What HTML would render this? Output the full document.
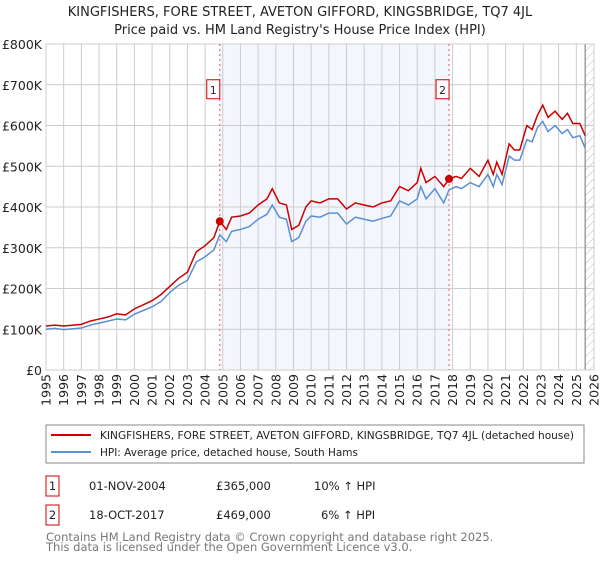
<!DOCTYPE html>
<html><head><meta charset="utf-8"><style>
body{margin:0;background:#fff;font-family:"Liberation Sans","DejaVu Sans",sans-serif;}
svg text{font-family:"DejaVu Sans","Liberation Sans",sans-serif;}
</style></head><body>
<svg id="c" width="600" height="560" viewBox="0 0 600 560" xmlns="http://www.w3.org/2000/svg">
<text x="300" y="16" text-anchor="middle" font-size="13" fill="#222">KINGFISHERS, FORE STREET, AVETON GIFFORD, KINGSBRIDGE, TQ7 4JL</text>
<text x="300" y="34" text-anchor="middle" font-size="13" fill="#222">Price paid vs. HM Land Registry's House Price Index (HPI)</text>
<g id="plot"></g>
<g>
<rect x="46" y="425" width="538" height="38" fill="#fff" stroke="#888"/>
<line x1="51" y1="435" x2="91" y2="435" stroke="#cc0000" stroke-width="2"/>
<text x="100" y="439" font-size="11" textLength="474" lengthAdjust="spacingAndGlyphs" fill="#222">KINGFISHERS, FORE STREET, AVETON GIFFORD, KINGSBRIDGE, TQ7 4JL (detached house)</text>
<line x1="51" y1="452" x2="91" y2="452" stroke="#5b8fd4" stroke-width="2"/>
<text x="100" y="456" font-size="11" textLength="258" lengthAdjust="spacingAndGlyphs" fill="#222">HPI: Average price, detached house, South Hams</text>
</g>
<g>
<rect x="46" y="476" width="13" height="20" fill="#fff" stroke="#cc0000"/>
<text x="52.5" y="490" font-size="11.5" text-anchor="middle" fill="#222">1</text>
<text x="89" y="490" font-size="11.5" fill="#222">01-NOV-2004</text>
<text x="216" y="490" font-size="11.5" fill="#222">£365,000</text>
<text x="314" y="490" font-size="11.5" fill="#222">10% ↑ HPI</text>
<rect x="46" y="505" width="13" height="20" fill="#fff" stroke="#cc0000"/>
<text x="52.5" y="519" font-size="11.5" text-anchor="middle" fill="#222">2</text>
<text x="89" y="519" font-size="11.5" fill="#222">18-OCT-2017</text>
<text x="216" y="519" font-size="11.5" fill="#222">£469,000</text>
<text x="321" y="519" font-size="11.5" fill="#222">6% ↑ HPI</text>
</g>
<text x="46" y="541" font-size="11.5" fill="#777">Contains HM Land Registry data © Crown copyright and database right 2025.</text>
<text x="46" y="551" font-size="11.5" fill="#777">This data is licensed under the Open Government Licence v3.0.</text>
</svg>
<script>
const years=[1995,1995.5,1996,1997,1997.5,1998,1998.5,1999,1999.5,2000,2000.5,2001,2001.5,2002,2002.5,2003,2003.5,2004,2004.5,2004.83,2005.2,2005.5,2006,2006.5,2007,2007.5,2007.8,2008.2,2008.6,2008.9,2009.3,2009.7,2010,2010.5,2011,2011.5,2012,2012.5,2013,2013.5,2014,2014.5,2015,2015.5,2016,2016.2,2016.5,2017,2017.5,2017.8,2018.2,2018.5,2019,2019.5,2020,2020.3,2020.5,2020.8,2021.2,2021.5,2021.8,2022.2,2022.5,2022.8,2023.1,2023.4,2023.8,2024.2,2024.5,2024.8,2025.2,2025.5];
const priceK=[108,110,108,112,120,125,130,138,135,150,160,170,185,205,225,240,290,305,325,365,345,375,378,385,405,420,445,410,405,345,355,400,415,410,420,420,395,410,405,400,410,415,450,440,460,495,460,475,450,469,475,470,495,475,515,480,510,480,555,540,540,600,590,625,650,620,635,615,630,605,605,575];
const hpiK=[100,102,99,103,110,115,120,125,123,137,146,155,168,190,208,220,265,278,295,332,315,340,345,352,370,382,405,375,370,315,325,365,378,375,385,385,358,375,370,365,372,378,415,405,420,450,420,445,410,442,450,445,460,450,480,450,480,455,525,515,515,565,560,595,610,585,600,580,590,570,575,545];
const yTicks=[0,100,200,300,400,500,600,700,800];
const xTicks=[];for(let y=1995;y<=2026;y++)xTicks.push(y);
const sales=[{n:'1',t:2004.83,v:365},{n:'2',t:2017.8,v:469}];
const L=46,R=594,T=44,B=370;
const X=t=>L+(t-1995)*(R-L)/31;
const Y=v=>B-v*(B-T)/800;
const NS='http://www.w3.org/2000/svg';
const g=document.getElementById('plot');
function mk(tag,a){const e=document.createElementNS(NS,tag);for(const k in a)e.setAttribute(k,a[k]);g.appendChild(e);return e;}
const bg=mk('rect',{x:X(sales[0].t),y:T,width:X(sales[1].t)-X(sales[0].t),height:B-T,fill:'#eef3fc',opacity:0.7});


yTicks.forEach(v=>{
 const l=mk('line',{x1:L,x2:R,y1:Y(v),y2:Y(v),stroke:'#ccc'});
 
 
 const t=mk('text',{x:L-4,y:Y(v)+5,'text-anchor':'end','font-size':12.5,fill:'#222'});
 t.textContent=v===0?'£0':'£'+v+'K';
 
 
});
xTicks.forEach(yr=>{
 const l=mk('line',{x1:X(yr),x2:X(yr),y1:T,y2:B,stroke:'#ccc'});
 
 
 const t=mk('text',{x:0,y:0,'text-anchor':'end','font-size':12.5,fill:'#222',transform:`translate(${X(yr)+4.5},${B+4}) rotate(-90)`});
 t.textContent=yr;
 
 
});
const hx=X(2025.5);
const defs=mk('defs',{});
defs.innerHTML='<pattern id="h" width="6" height="6" patternUnits="userSpaceOnUse" patternTransform="rotate(45)"><line x1="0" y1="0" x2="0" y2="6" stroke="#bbb" stroke-width="1"/></pattern>';
const hr=mk('rect',{x:hx,y:T,width:R-hx,height:B-T,fill:'url(#h)'});


const hl=mk('line',{x1:hx,x2:hx,y1:T,y2:B,stroke:'#888','stroke-width':1.2});


const fr=mk('rect',{x:L,y:T,width:R-L,height:B-T,fill:'none',stroke:'#ccc'});


sales.forEach(s=>{
 const l=mk('line',{x1:X(s.t),x2:X(s.t),y1:T,y2:B,stroke:'#e55','stroke-dasharray':'2,3'});
 
 
});
const hp=mk('polyline',{points:years.map((t,i)=>X(t)+','+Y(hpiK[i])).join(' '),fill:'none',stroke:'#5b8fd4','stroke-width':1.5});


const pp=mk('polyline',{points:years.map((t,i)=>X(t)+','+Y(priceK[i])).join(' '),fill:'none',stroke:'#cc0000','stroke-width':1.5});


sales.forEach(s=>{
 const c=mk('circle',{cx:X(s.t),cy:Y(s.v),r:4,fill:'#cc0000'});
 
 
 const b=mk('rect',{x:X(s.t)-13,y:Y(700)-5,width:13,height:19,fill:'#fff',stroke:'#cc0000'});
 
 
 const t=mk('text',{x:X(s.t)-6.5,y:Y(700)+9,'text-anchor':'middle','font-size':11,fill:'#222'});
 t.textContent=s.n;
 
 
});
</script>
</body></html>
